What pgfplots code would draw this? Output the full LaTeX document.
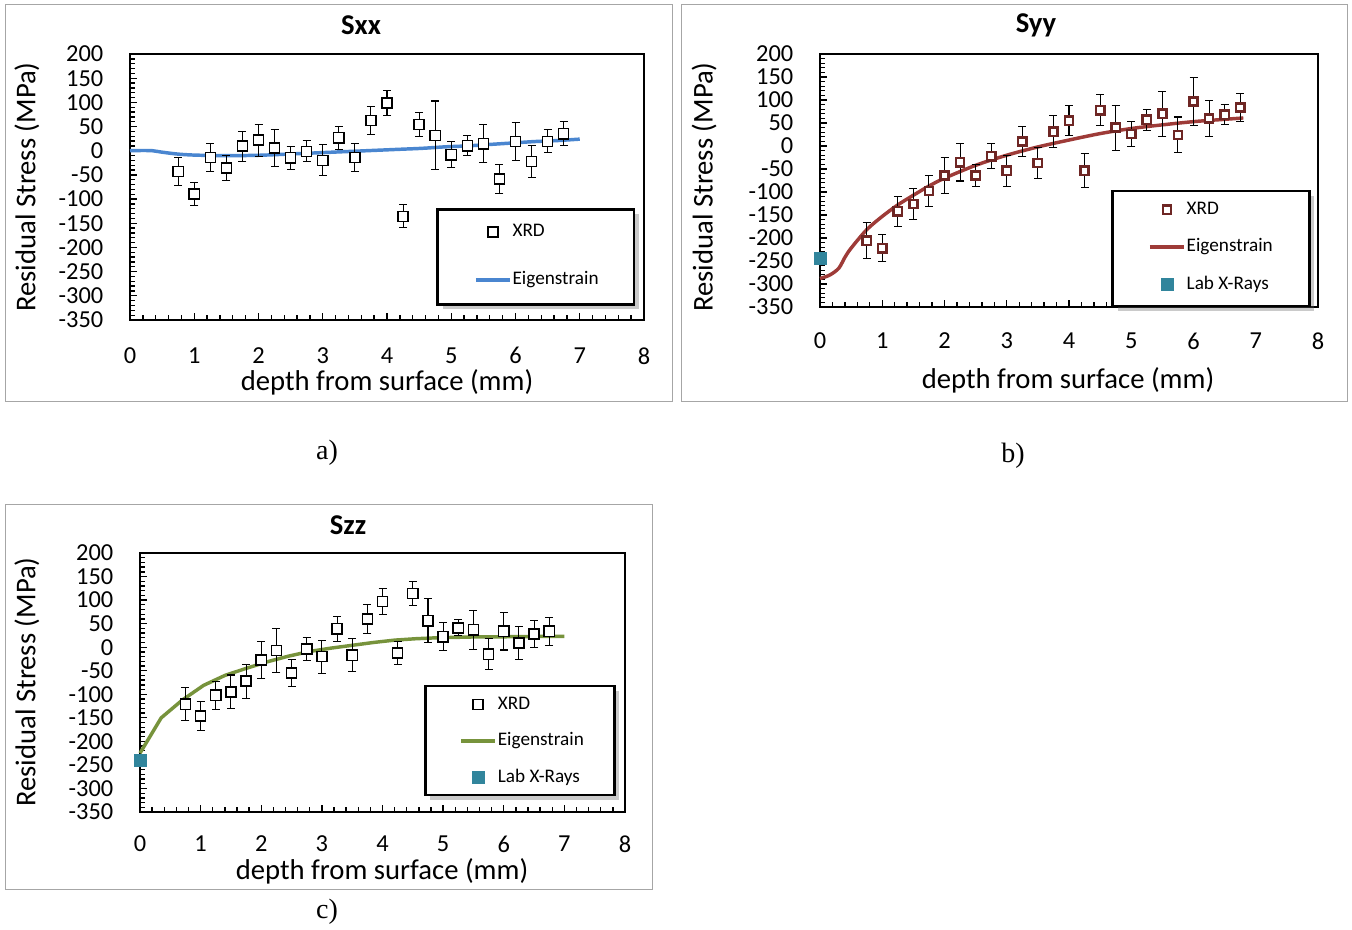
\documentclass[border=0pt]{standalone}
\usepackage{pgfplots}
\pgfplotsset{compat=1.18}
\usepackage{fontspec}
\setmainfont{Carlito}
\newfontfamily\timesfont{Liberation Serif}
\usetikzlibrary{shadows}
\definecolor{blueline}{HTML}{4A86D0}
\definecolor{redline}{HTML}{9E3B38}
\definecolor{redmark}{HTML}{6E2624}
\definecolor{greenline}{HTML}{77933C}
\definecolor{labteal}{HTML}{31859C}
\definecolor{framegray}{HTML}{A6A6A6}

\pgfplotstableread{
x y e
0.75 -43 29
1.00 -89.5 24.5
1.25 -13.6 29
1.50 -35.8 25
1.75 9.7 31
2.00 22 33
2.25 5.6 38
2.50 -14.5 24
2.75 -1.2 22
3.00 -19.9 32
3.25 26.9 24
3.50 -13.6 29
3.75 62.9 29
4.00 98.6 25
4.25 -135.6 24
4.50 54.6 25
4.75 31.8 71
5.00 -8.3 27
5.25 10.3 21
5.50 14.5 39
5.75 -58.5 30
6.00 19.4 39
6.25 -21.9 33
6.50 19.4 24
6.75 35.2 25
}\xrdA

\pgfplotstableread{
x y e
0.75 -206 39
1.00 -222 29
1.25 -142 33
1.50 -126 33
1.75 -98 33
2.00 -64 39
2.25 -35 41
2.50 -64 24
2.75 -22 27
3.00 -54 34
3.25 10 33
3.50 -37 34
3.75 31 35
4.00 55 33
4.25 -54 37
4.50 78 33
4.75 40 49
5.00 26 27
5.25 57 23
5.50 70 49
5.75 24 39
6.00 97 52
6.25 60 39
6.50 68 22
6.75 84 31
}\xrdB

\pgfplotstableread{
x y e
0.75 -121 35
1.00 -146 30
1.25 -102 30
1.50 -95 36
1.75 -72 36
2.00 -27 40
2.25 -7 46
2.50 -55 29
2.75 -4 25
3.00 -20 35
3.25 39 27
3.50 -17 35
3.75 60 31
4.00 97 28
4.25 -12 25
4.50 114 25
4.75 56 47
5.00 22 30
5.25 41 17
5.50 37 41
5.75 -15 33
6.00 34 40
6.25 9 35
6.50 28 28
6.75 34 30
}\xrdC

\tikzset{legbox/.style={line width=2.2pt, fill=white,
  drop shadow={shadow xshift=3.5pt, shadow yshift=-3.5pt, opacity=0.35, fill=black!60}}}

\pgfplotsset{
  resax/.style={
    scale only axis, set layers, clip=false,
    xmin=0, xmax=8, ymin=-350, ymax=200,
    xtick={0,1,...,8}, ytick={-350,-300,...,200},
    minor x tick num=4, minor y tick num=4,
    tick align=inside, tick pos=left,
    major tick length=5.5pt, minor tick length=3.5pt,
    every tick/.style={black, line width=1pt},
    axis line style={line width=0.8pt},
    ticklabel style={font=\fontsize{18.3}{20}\selectfont},
    /pgf/number format/assume math mode=true,
    yticklabel style={xshift=-16.5pt},
    legend cell align=left,
    legend style={draw=none, fill=none, inner sep=0pt,
      font=\fontsize{14.4}{16}\selectfont, column sep=0pt,
      nodes={inner xsep=0.75pt, inner ysep=0pt, text height=10pt, text depth=3pt}},
  },
  xrdmark/.style={only marks, mark=square*, mark size=3.8pt,
    mark options={fill=white, draw=black, line width=1.1pt}},
  xrdmarkred/.style={only marks, mark=square*, mark size=3.1pt,
    mark options={fill=white, draw=redmark, line width=1.9pt}},
  errs/.style={error bars/.cd, y dir=both, y explicit,
    error bar style={line width=0.8pt, black},
    error mark options={rotate=90, mark size=3pt, line width=0.8pt, black}},
  labmark/.style={only marks, mark=square*, mark size=4.5pt,
    mark options={fill=labteal, draw=labteal}},
  legxrd/.style={legend image code/.code={\draw[only marks, mark=square*, mark size=3.8pt, mark options={fill=white, draw=black, line width=1.1pt}] plot coordinates {(12.75pt,0pt)};}},
  legxrdred/.style={legend image code/.code={\draw[only marks, mark=square*, mark size=3.1pt, mark options={fill=white, draw=redmark, line width=1.9pt}] plot coordinates {(12.75pt,0pt)};}},
  leglab/.style={legend image code/.code={\draw[only marks, mark=square*, mark size=4.5pt, mark options={fill=labteal, draw=labteal}] plot coordinates {(12.75pt,0pt)};}},
  legline/.style={legend image code/.code={\draw[#1, line width=2.6pt] (0pt,0pt) -- (25.5pt,0pt);}},
}

\begin{document}
\begin{tikzpicture}
\path (0pt,0pt) rectangle (1014pt,-696.75pt);
% panel frames
\draw[framegray, line width=0.75pt] (3.75pt,-3pt) rectangle (504pt,-300.75pt);
\draw[framegray, line width=0.75pt] (510.75pt,-3pt) rectangle (1010.25pt,-300.75pt);
\draw[framegray, line width=0.75pt] (3.75pt,-378pt) rectangle (489pt,-666.75pt);

% ---------- a) Sxx ----------
\begin{axis}[resax, at={(97.5pt,-240pt)}, anchor=south west,
  width=385.5pt, height=199.5pt, xticklabel style={yshift=-17pt},
  legend style={at={(axis description cs:0.669,0.2406)}, anchor=west, row sep=23pt}]
\draw[line width=1.6pt, line cap=rect] (rel axis cs:0,1) -- (rel axis cs:0,0) -- (rel axis cs:1,0);
\addplot[blueline, line width=2.6pt, smooth, forget plot] coordinates {
(0,0) (0.2,0.5) (0.35,0) (0.5,-3) (0.75,-7) (1.0,-9) (1.4,-10) (1.75,-10) (2.1,-9)
(2.45,-7) (2.8,-5) (3.15,-3) (3.5,-1) (3.85,1) (4.2,3) (4.55,5) (4.9,8) (5.25,10)
(5.6,13) (5.95,16) (6.3,19) (6.65,21) (7.0,24)};
\draw[legbox] (axis description cs:0.599,0.060) rectangle (axis description cs:0.9805,0.417);
\addlegendimage{legxrd}
\addlegendentry{XRD}
\addlegendimage{blueline, legline}
\addlegendentry{Eigenstrain}
\addplot[xrdmark, forget plot, errs] table[x=x, y=y, y error=e] {\xrdA};
\end{axis}

% ---------- b) Syy ----------
\begin{axis}[resax, at={(615pt,-230.25pt)}, anchor=south west,
  width=373.5pt, height=189.75pt, xticklabel style={yshift=-16pt},
  legend style={at={(axis description cs:0.6586,0.237)}, anchor=west, row sep=15pt}]
\draw[line width=1.6pt, line cap=rect] (rel axis cs:0,1) -- (rel axis cs:0,0) -- (rel axis cs:1,0);
\addplot[redline, line width=2.6pt, smooth, forget plot] coordinates {
(0,-288) (0.15,-281) (0.3,-266) (0.4,-242) (0.5,-222) (0.75,-182) (1.0,-153)
(1.25,-128) (1.5,-107) (1.75,-87) (2.0,-70) (2.5,-42) (3.0,-20) (3.5,-2)
(4.0,13) (4.5,27) (5.0,38) (5.5,46) (6.0,53) (6.5,58) (6.8,61)};
\draw[legbox] (axis description cs:0.588,0.004) rectangle (axis description cs:0.982,0.4585);
\addlegendimage{legxrdred}
\addlegendentry{XRD}
\addlegendimage{redline, legline}
\addlegendentry{Eigenstrain}
\addlegendimage{leglab}
\addlegendentry{Lab X-Rays}
\addplot[xrdmarkred, forget plot, errs] table[x=x, y=y, y error=e] {\xrdB};
\addplot[labmark, forget plot] coordinates {(0,-243)};
\end{axis}

% ---------- c) Szz ----------
\begin{axis}[resax, at={(105pt,-609pt)}, anchor=south west,
  width=363.75pt, height=194.25pt, xticklabel style={yshift=-14.5pt},
  legend style={at={(axis description cs:0.658,0.274)}, anchor=west, row sep=14.4pt}]
\draw[line width=1.6pt, line cap=rect] (rel axis cs:0,1) -- (rel axis cs:0,0) -- (rel axis cs:1,0);
\addplot[greenline, line width=2.6pt, forget plot] coordinates {
(0,-225) (0.35,-150) (0.7,-112) (1.05,-81) (1.4,-60) (1.75,-45) (2.1,-31)
(2.45,-19) (2.8,-9) (3.15,-2) (3.5,4) (3.85,10) (4.2,15) (4.55,18) (4.9,20)
(5.25,21) (5.6,22) (5.95,22) (6.3,22.5) (6.65,23) (7.0,23)};
\draw[legbox] (axis description cs:0.588,0.0656) rectangle (axis description cs:0.979,0.4865);
\addlegendimage{legxrd}
\addlegendentry{XRD}
\addlegendimage{greenline, legline}
\addlegendentry{Eigenstrain}
\addlegendimage{leglab}
\addlegendentry{Lab X-Rays}
\addplot[xrdmark, forget plot, errs] table[x=x, y=y, y error=e] {\xrdC};
\addplot[labmark, forget plot] coordinates {(0,-241)};
\end{axis}

% titles
\node[font=\bfseries\fontsize{21.5}{24}\selectfont] at (270.75pt,-18.75pt) {Sxx};
\node[font=\bfseries\fontsize{21.5}{24}\selectfont] at (777pt,-18.75pt) {Syy};
\node[font=\bfseries\fontsize{21.5}{24}\selectfont] at (261pt,-393.75pt) {Szz};
% y labels
\node[rotate=90, font=\fontsize{21.5}{24}\selectfont] at (20.25pt,-140.25pt) {Residual Stress (MPa)};
\node[rotate=90, font=\fontsize{21.5}{24}\selectfont] at (528pt,-140.25pt) {Residual Stress (MPa)};
\node[rotate=90, font=\fontsize{21.5}{24}\selectfont] at (20.25pt,-511.5pt) {Residual Stress (MPa)};
% x labels
\node[font=\fontsize{21.5}{24}\selectfont, inner sep=1pt] at (290.25pt,-286.5pt) {depth from surface (mm)};
\node[font=\fontsize{21.5}{24}\selectfont, inner sep=1pt] at (801pt,-285pt) {depth from surface (mm)};
\node[font=\fontsize{21.5}{24}\selectfont, inner sep=1pt] at (286.5pt,-653.25pt) {depth from surface (mm)};
% captions
\node[font=\timesfont\fontsize{21}{24}\selectfont] at (245.25pt,-339.75pt) {a)};
\node[font=\timesfont\fontsize{21}{24}\selectfont] at (759.75pt,-342pt) {b)};
\node[font=\timesfont\fontsize{21}{24}\selectfont] at (245.25pt,-684pt) {c)};
\end{tikzpicture}
\end{document}
